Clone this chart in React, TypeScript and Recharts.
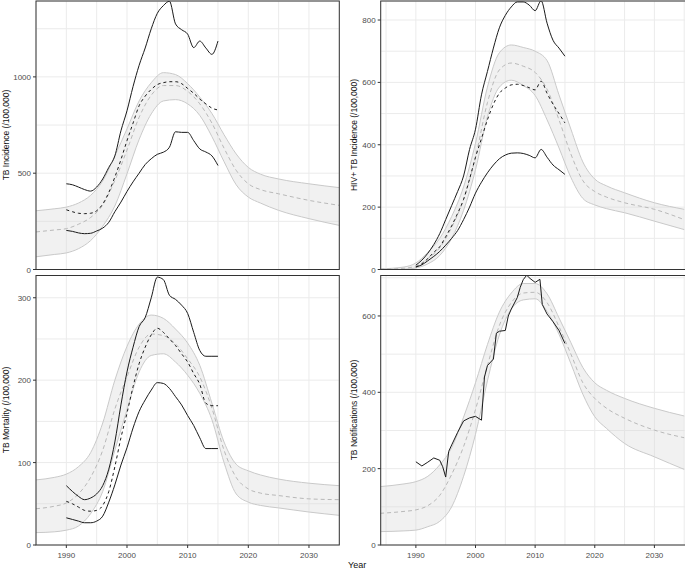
import { ComposedChart, Area, Line, XAxis, YAxis, CartesianGrid } from "recharts";

const FONT = "'Liberation Sans', Arial, Helvetica, sans-serif";

// model band years (left panels start at 1985, right ones at 1984)
const bandYearsL = [1985, 1988, 1990, 1992, 1994, 1996, 1998, 2000, 2002, 2004, 2006, 2008, 2010, 2012, 2014, 2016, 2018, 2020, 2022, 2025, 2030, 2035];
const bandYearsR = [1984, 1988, 1990, 1992, 1994, 1996, 1998, 2000, 2002, 2004, 2006, 2008, 2010, 2012, 2014, 2016, 2018, 2020, 2022, 2025, 2030, 2035];
const obsYears = [1990, 1991, 1992, 1993, 1994, 1995, 1996, 1997, 1998, 1999, 2000, 2001, 2002, 2003, 2004, 2005, 2006, 2007, 2008, 2009, 2010, 2011, 2012, 2013, 2014, 2015];

// TB incidence
const incHi = [305, 315, 324, 345, 385, 460, 590, 730, 875, 970, 1022, 1012, 965, 895, 810, 700, 600, 530, 495, 470, 445, 425];
const incLo = [66, 78, 86, 108, 150, 225, 330, 497, 675, 808, 875, 882, 860, 800, 690, 560, 440, 376, 345, 307, 264, 229];
const incMid = [195, 205, 212, 235, 270, 335, 462, 620, 790, 905, 955, 955, 925, 860, 760, 630, 515, 445, 415, 393, 359, 333];
const incEst = [310, 300, 292, 290, 292, 305, 340, 400, 480, 570, 669, 760, 850, 900, 935, 960, 970, 975, 975, 965, 940, 915, 885, 860, 838, 828];
const incUp = [445, 440, 428, 415, 407, 428, 470, 530, 590, 720, 824, 950, 1060, 1150, 1250, 1330, 1370, 1393, 1275, 1245, 1222, 1152, 1186, 1150, 1117, 1186];
const incLow = [203, 198, 190, 186, 188, 200, 215, 245, 300, 350, 405, 455, 500, 545, 575, 598, 609, 635, 715, 712, 712, 669, 626, 610, 590, 540];

// HIV+ TB incidence
const hivHi = [2, 8, 21, 55, 100, 170, 265, 405, 585, 695, 720, 712, 700, 670, 560, 450, 345, 290, 268, 246, 214, 193];
const hivLo = [0, 1, 5, 18, 45, 100, 190, 320, 490, 585, 607, 590, 558, 480, 390, 295, 228, 207, 195, 182, 155, 128];
const hivMid = [1, 4, 11, 35, 70, 135, 225, 360, 535, 640, 662, 652, 632, 578, 480, 370, 285, 250, 232, 214, 193, 160];
const hivEst = [8, 18, 35, 55, 73, 105, 140, 180, 225, 290, 360, 420, 480, 530, 565, 582, 592, 594, 590, 583, 576, 604, 565, 530, 500, 470];
const hivUp = [14, 30, 52, 80, 115, 160, 205, 250, 300, 385, 450, 560, 635, 710, 775, 815, 842, 858, 858, 848, 830, 862, 790, 735, 710, 684];
const hivLow = [8, 15, 28, 42, 58, 78, 100, 125, 160, 200, 245, 280, 310, 335, 355, 367, 373, 374, 372, 366, 358, 385, 360, 335, 320, 305];

// TB mortality
const morHi = [79, 82, 86, 95, 112, 148, 200, 241, 268, 279, 275, 262, 245, 218, 172, 125, 98, 90, 85, 80, 75, 72];
const morLo = [15, 16, 18, 23, 38, 65, 115, 164, 210, 230, 232, 222, 206, 184, 152, 100, 62, 52, 48, 45, 40, 36];
const morMid = [44, 47, 51, 62, 82, 115, 165, 204, 240, 256, 254, 244, 226, 204, 166, 115, 82, 68, 63, 60, 56, 55];
const morEst = [53, 50, 46, 42, 41, 42, 48, 65, 95, 130, 160, 192, 220, 240, 255, 263, 258, 250, 242, 232, 222, 208, 195, 172, 169, 169];
const morUp = [72, 65, 59, 55, 57, 62, 72, 92, 125, 170, 210, 240, 265, 276, 300, 325, 322, 303, 298, 291, 281, 258, 236, 229, 229, 229];
const morLow = [33, 31, 29, 27, 27, 29, 35, 52, 73, 97, 118, 142, 162, 176, 188, 197, 196, 190, 180, 170, 157, 145, 130, 117, 117, 117];

// TB notifications
const notHi = [153, 160, 166, 180, 210, 255, 335, 425, 525, 610, 660, 685, 685, 658, 595, 530, 465, 425, 405, 384, 358, 338];
const notLo = [35, 37, 39, 48, 62, 100, 180, 290, 430, 550, 618, 642, 645, 612, 552, 475, 395, 336, 305, 266, 231, 198];
const notMid = [83, 88, 92, 103, 130, 185, 258, 355, 470, 575, 635, 660, 662, 635, 572, 500, 425, 384, 358, 332, 301, 281];
const notifYears = [1990, 1991, 1992, 1993, 1994, 1994.5, 1995, 1995.5, 1996, 1997, 1998, 1999, 2000, 2001, 2001.5, 2002, 2003, 2003.5, 2004, 2005, 2005.5, 2006, 2007, 2007.5, 2008, 2008.6, 2009, 2010, 2010.8, 2011.2, 2012, 2013, 2014, 2015];
const notifVals = [218, 207, 217, 228, 222, 205, 178, 245, 262, 295, 325, 333, 337, 327, 440, 470, 487, 555, 560, 562, 600, 618, 648, 675, 695, 707, 700, 688, 696, 630, 605, 585, 562, 528];

const xTicksAll = [1985, 1990, 1995, 2000, 2005, 2010, 2015, 2020, 2025, 2030, 2035];
const xMajors = [1990, 2000, 2010, 2020, 2030];

const band = (years: number[], lo: number[], hi: number[], mid: number[]) =>
  years.map((yr, i) => ({ yr, range: [lo[i], hi[i]], lo: lo[i], hi: hi[i], mid: mid[i] }));
const obs = (years: number[], est: number[] | null, up: number[] | null, low: number[] | null) =>
  years.map((yr, i) => ({ yr, est: est ? est[i] : null, up: up ? up[i] : null, low: low ? low[i] : null }));

const makeYTick = (majors: number[]) => (props: any) => {
  const { x, y, payload } = props;
  if (!majors.includes(payload.value)) return <g />;
  return (
    <g>
      <line x1={x + 2} x2={x + 5} y1={y} y2={y} stroke="#333" strokeWidth={1} />
      <text x={x} y={y} dy={3} textAnchor="end" fontSize={8} fill="#4d4d4d" fontFamily={FONT}>
        {payload.value}
      </text>
    </g>
  );
};

const xTick = (props: any) => {
  const { x, y, payload } = props;
  if (!xMajors.includes(payload.value)) return <g />;
  return (
    <g>
      <line x1={x} x2={x} y1={y - 6} y2={y - 3} stroke="#333" strokeWidth={1} />
      <text x={x} y={y} dy={7} textAnchor="middle" fontSize={8} fill="#4d4d4d" fontFamily={FONT}>
        {payload.value}
      </text>
    </g>
  );
};
const noTick = () => <g />;

interface PanelProps {
  left: number;
  top: number;
  width: number;
  height: number;
  yAxisWidth: number;
  margin: { top: number; right: number; bottom: number; left: number };
  xDomain: [number, number];
  yDomain: [number, number];
  yTicks: number[];
  yMajors: number[];
  bottom: boolean;
  bandData: any[];
  obsData: any[];
  notif?: boolean;
}

function Panel(p: PanelProps) {
  return (
    <div style={{ position: "absolute", left: p.left, top: p.top }}>
      <ComposedChart width={p.width} height={p.height} margin={p.margin}>
        <CartesianGrid stroke="#ebebeb" strokeWidth={1} />
        <XAxis
          type="number"
          dataKey="yr"
          domain={p.xDomain}
          ticks={xTicksAll}
          interval={0}
          allowDataOverflow
          axisLine={false}
          tickLine={false}
          tickSize={3}
          tickMargin={3}
          tick={p.bottom ? xTick : noTick}
          height={p.bottom ? 25 : 0}
        />
        <YAxis
          type="number"
          domain={p.yDomain}
          ticks={p.yTicks}
          interval={0}
          allowDataOverflow
          axisLine={false}
          tickLine={false}
          tickSize={3}
          tickMargin={2}
          tick={makeYTick(p.yMajors)}
          width={p.yAxisWidth}
        />
        <Area data={p.bandData} dataKey="range" type="monotone" fill="#d6d6d6" fillOpacity={0.35} stroke="none" isAnimationActive={false} />
        <Line data={p.bandData} dataKey="hi" type="monotone" stroke="#c9c9c9" strokeWidth={1} dot={false} isAnimationActive={false} />
        <Line data={p.bandData} dataKey="lo" type="monotone" stroke="#c9c9c9" strokeWidth={1} dot={false} isAnimationActive={false} />
        <Line data={p.bandData} dataKey="mid" type="monotone" stroke="#b8b8b8" strokeWidth={1} strokeDasharray="4 3" dot={false} isAnimationActive={false} />
        {p.notif ? (
          <Line data={p.obsData} dataKey="est" type="linear" stroke="#1a1a1a" strokeWidth={1} dot={false} isAnimationActive={false} />
        ) : (
          <>
            <Line data={p.obsData} dataKey="est" type="monotone" stroke="#1a1a1a" strokeWidth={1} strokeDasharray="3 3" dot={false} isAnimationActive={false} />
            <Line data={p.obsData} dataKey="up" type="monotone" stroke="#1a1a1a" strokeWidth={1} dot={false} isAnimationActive={false} />
            <Line data={p.obsData} dataKey="low" type="monotone" stroke="#1a1a1a" strokeWidth={1} dot={false} isAnimationActive={false} />
          </>
        )}
      </ComposedChart>
    </div>
  );
}

// plot areas of the four panels (for borders and titles)
const frames = [
  { x0: 36, x1: 339.3, y0: 1, y1: 269.5 },
  { x0: 380.7, x1: 686, y0: 1, y1: 269.5 },
  { x0: 36, x1: 339.3, y0: 275.5, y1: 545 },
  { x0: 380.7, x1: 686, y0: 275.5, y1: 545 },
];
const yTitles = [
  { text: "TB Incidence (/100,000)", x: 6, y: 135 },
  { text: "HIV+ TB Incidence (/100,000)", x: 353.5, y: 135 },
  { text: "TB Mortality (/100,000)", x: 6, y: 410 },
  { text: "TB Notifications (/100,000)", x: 353.5, y: 410 },
];

export default function App() {
  const leftX: [number, number] = [1985, 2035];
  const rightX: [number, number] = [1984.1, 2035.3];
  return (
    <div style={{ position: "absolute", left: 0, top: 0, width: 685, height: 570, overflow: "hidden", background: "#fff" }}>
      <Panel
        left={0} top={0} width={340} height={278} yAxisWidth={36}
        margin={{ top: 1, right: 0.7, bottom: 8.5, left: 0 }}
        xDomain={leftX} yDomain={[0, 1394]}
        yTicks={[0, 250, 500, 750, 1000, 1250]} yMajors={[0, 500, 1000]}
        bottom={false}
        bandData={band(bandYearsL, incLo, incHi, incMid)}
        obsData={obs(obsYears, incEst, incUp, incLow)}
      />
      <Panel
        left={344} top={0} width={342} height={278} yAxisWidth={36.7}
        margin={{ top: 1, right: 0, bottom: 8.5, left: 0 }}
        xDomain={rightX} yDomain={[0, 861]}
        yTicks={[0, 100, 200, 300, 400, 500, 600, 700, 800]} yMajors={[0, 200, 400, 600, 800]}
        bottom={false}
        bandData={band(bandYearsR, hivLo, hivHi, hivMid)}
        obsData={obs(obsYears, hivEst, hivUp, hivLow)}
      />
      <Panel
        left={0} top={270} width={340} height={300} yAxisWidth={36}
        margin={{ top: 5.5, right: 0.7, bottom: 0, left: 0 }}
        xDomain={leftX} yDomain={[0, 327]}
        yTicks={[0, 50, 100, 150, 200, 250, 300]} yMajors={[0, 100, 200, 300]}
        bottom={true}
        bandData={band(bandYearsL, morLo, morHi, morMid)}
        obsData={obs(obsYears, morEst, morUp, morLow)}
      />
      <Panel
        left={344} top={270} width={342} height={300} yAxisWidth={36.7}
        margin={{ top: 5.5, right: 0, bottom: 0, left: 0 }}
        xDomain={rightX} yDomain={[0, 706]}
        yTicks={[0, 100, 200, 300, 400, 500, 600, 700]} yMajors={[0, 200, 400, 600]}
        bottom={true}
        bandData={band(bandYearsR, notLo, notHi, notMid)}
        obsData={obs(notifYears, notifVals, null, null)}
        notif
      />
      <svg width={685} height={570} style={{ position: "absolute", left: 0, top: 0, pointerEvents: "none" }}>
        {frames.map((f, i) => (
          <rect key={i} x={f.x0} y={f.y0} width={f.x1 - f.x0} height={f.y1 - f.y0} fill="none" stroke="#333" strokeWidth={1} />
        ))}
        {yTitles.map((t, i) => (
          <text key={i} x={t.x} y={t.y} transform={`rotate(-90 ${t.x} ${t.y})`} textAnchor="middle" dominantBaseline="central" fontSize={8.5} fill="#111" fontFamily={FONT}>
            {t.text}
          </text>
        ))}
        <text x={348} y={565} dominantBaseline="central" fontSize={9} fill="#111" fontFamily={FONT}>Year</text>
      </svg>
    </div>
  );
}
